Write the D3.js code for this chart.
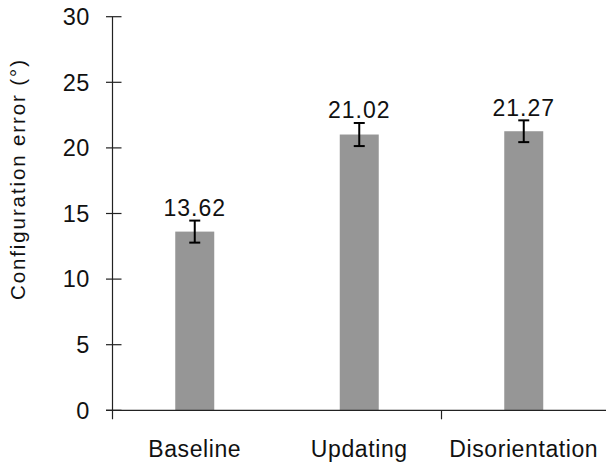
<!DOCTYPE html>
<html>
<head>
<meta charset="utf-8">
<script src="https://cdn.jsdelivr.net/npm/d3@7"></script>
<style>
  html, body { margin: 0; padding: 0; background: #fff; }
  svg { display: block; }
  text { font-family: "Liberation Sans", Arial, sans-serif; fill: #111; }
</style>
</head>
<body>
<svg id="chart" width="612" height="467"></svg>
<script>
const categories = ["Baseline", "Updating", "Disorientation"];
const values = [13.62, 21.02, 21.27];
const errors = [0.84, 0.88, 0.83];
const yTicks = [0, 5, 10, 15, 20, 25, 30];
const yLabel = "Configuration error (\u00B0)";

const svg = d3.select("#chart");
const x0 = 112.5, x1 = 606, yTop = 16.7, yBot = 410.3;

const x = d3.scaleBand().domain(categories).range([x0, x1]).paddingInner(0).paddingOuter(0);
const y = d3.scaleLinear().domain([0, 30]).range([yBot, yTop]);
const barW = 39;

// bars
svg.selectAll("rect.bar").data(values).enter().append("rect")
  .attr("class", "bar")
  .attr("x", (d, i) => x(categories[i]) + x.bandwidth() / 2 - barW / 2)
  .attr("width", barW)
  .attr("y", d => y(d))
  .attr("height", d => y(0) - y(d))
  .attr("fill", "#969696");

// error bars
const eg = svg.append("g").attr("stroke", "#000").attr("stroke-width", 2);
values.forEach((v, i) => {
  const cx = x(categories[i]) + x.bandwidth() / 2;
  const t = y(v + errors[i]), b = y(v - errors[i]);
  eg.append("line").attr("x1", cx).attr("x2", cx).attr("y1", t).attr("y2", b);
  eg.append("line").attr("x1", cx - 5.5).attr("x2", cx + 5.5).attr("y1", t).attr("y2", t);
  eg.append("line").attr("x1", cx - 5.5).attr("x2", cx + 5.5).attr("y1", b).attr("y2", b);
});

// value labels
svg.selectAll("text.val").data(values).enter().append("text")
  .attr("class", "val")
  .attr("x", (d, i) => x(categories[i]) + x.bandwidth() / 2)
  .attr("y", (d, i) => y(d + errors[i]) - 4.5)
  .attr("text-anchor", "middle")
  .attr("font-size", 23)
  .attr("letter-spacing", 1)
  .text(d => d.toFixed(2));

// y axis
const ax = svg.append("g").attr("stroke", "#222").attr("stroke-width", 1.2);
ax.append("line").attr("x1", x0).attr("x2", x0).attr("y1", yTop).attr("y2", yBot + 9);
yTicks.forEach(t => {
  ax.append("line").attr("x1", x0 - 6.5).attr("x2", x0 + 9).attr("y1", y(t)).attr("y2", y(t));
});
svg.selectAll("text.ytick").data(yTicks).enter().append("text")
  .attr("class", "ytick")
  .attr("x", 90)
  .attr("y", d => y(d))
  .attr("dy", "0.35em")
  .attr("text-anchor", "end")
  .attr("font-size", 23.5)
  .attr("letter-spacing", 0.6)
  .text(d => d);

// x axis
ax.append("line").attr("x1", x0 - 6.5).attr("x2", x1).attr("y1", yBot).attr("y2", yBot);
ax.append("line")
  .attr("x1", x(categories[2])).attr("x2", x(categories[2]))
  .attr("y1", yBot).attr("y2", yBot + 9);

svg.selectAll("text.cat").data(categories).enter().append("text")
  .attr("class", "cat")
  .attr("x", d => x(d) + x.bandwidth() / 2)
  .attr("y", 456.7)
  .attr("text-anchor", "middle")
  .attr("font-size", 23)
  .attr("letter-spacing", 0.6)
  .text(d => d);

// y label
svg.append("text")
  .attr("transform", "translate(25,180) rotate(-90)")
  .attr("text-anchor", "middle")
  .attr("font-size", 20.5)
  .attr("textLength", 240)
  .attr("lengthAdjust", "spacing")
  .text(yLabel);
</script>
</body>
</html>
